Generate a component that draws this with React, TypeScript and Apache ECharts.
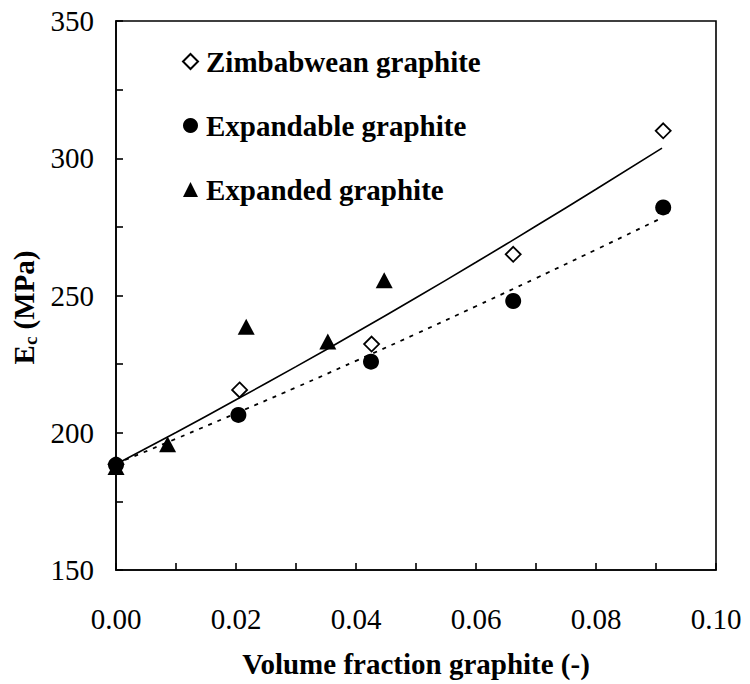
import React, { useEffect, useRef } from "react";
import * as echarts from "echarts";

// Measured data points
const zimX = [0, 0.0206, 0.0426, 0.0662, 0.0912];
const zimY = [188.5, 215.6, 232.3, 265.0, 310.0];

const expandableX = [0, 0.0204, 0.0425, 0.0662, 0.0912];
const expandableY = [188.3, 206.5, 225.9, 248.0, 282.1];

const expandedX = [0, 0.0086, 0.0217, 0.0353, 0.0447];
const expandedY = [187.5, 195.8, 238.6, 233.2, 255.6];

// Model curves
const curveX = [0, 0.01, 0.02, 0.03, 0.04, 0.05, 0.06, 0.07, 0.08, 0.091];
const solidY = [188.5, 200.1, 212.0, 224.1, 236.5, 249.2, 262.1, 275.3, 288.7, 303.7];
const dottedY = [188.7, 197.8, 207.1, 216.5, 226.2, 236.0, 246.1, 256.3, 266.7, 278.3];

const seriesNames = ["Zimbabwean graphite", "Expandable graphite", "Expanded graphite"];

const FONT = "Times New Roman, Liberation Serif, DejaVu Serif, serif";

function pairs(xs: number[], ys: number[]) {
  return xs.map((x, i) => [x, ys[i]]);
}

export default function App() {
  const ref = useRef<HTMLDivElement>(null);
  useEffect(() => {
    document.body.style.margin = "0";
    const chart = echarts.init(ref.current!, null, { renderer: "svg" });
    const axisLineStyle = { color: "#000", width: 1.6 };
    chart.setOption({
      animation: false,
      backgroundColor: "#fff",
      textStyle: { fontFamily: FONT },
      grid: {
        left: 116,
        right: 34,
        top: 21,
        bottom: 114,
        show: true,
        borderColor: "#000",
        borderWidth: 1.6,
      },
      legend: {
        data: seriesNames,
        orient: "vertical",
        left: 177,
        top: 42,
        itemWidth: 15,
        itemHeight: 15,
        itemGap: 35,
        textStyle: {
          fontFamily: FONT,
          fontWeight: "bold",
          fontSize: 29,
          color: "#000",
          padding: [0, 0, 0, 3],
        },
      },
      xAxis: {
        type: "value",
        min: 0,
        max: 0.1,
        interval: 0.01,
        name: "Volume fraction graphite (-)",
        nameLocation: "middle",
        nameGap: 79,
        nameTextStyle: {
          fontFamily: FONT,
          fontWeight: "bold",
          fontSize: 29,
          color: "#000",
        },
        axisLine: { lineStyle: axisLineStyle },
        axisTick: { inside: true, length: 7, lineStyle: axisLineStyle },
        splitLine: { show: false },
        axisLabel: {
          margin: 34,
          fontFamily: FONT,
          fontSize: 29,
          color: "#000",
          showMinLabel: true,
          showMaxLabel: true,
          formatter: (v: number) => {
            const k = Math.round(v * 100);
            return k % 2 === 0 ? v.toFixed(2) : "";
          },
        },
      },
      yAxis: {
        type: "value",
        min: 150,
        max: 350,
        interval: 25,
        name: "{b|E}{s|c}{b| (MPa)}",
        nameLocation: "middle",
        nameRotate: 90,
        nameGap: 72,
        nameTextStyle: {
          padding: [0, 24, 0, 0],
          rich: {
            b: { fontFamily: FONT, fontWeight: "bold", fontSize: 29, color: "#000" },
            s: {
              fontFamily: FONT,
              fontWeight: "bold",
              fontSize: 19,
              color: "#000",
              padding: [12, 0, 0, 0],
            },
          },
        },
        axisLine: { lineStyle: axisLineStyle },
        axisTick: { inside: true, length: 7, lineStyle: axisLineStyle },
        splitLine: { show: false },
        axisLabel: {
          margin: 22,
          fontFamily: FONT,
          fontSize: 29,
          color: "#000",
          formatter: (v: number) => (v % 50 === 0 ? String(v) : ""),
        },
      },
      series: [
        {
          type: "line",
          data: pairs(curveX, solidY),
          showSymbol: false,
          symbol: "none",
          smooth: true,
          lineStyle: { color: "#000", width: 1.6 },
          z: 1,
          silent: true,
        },
        {
          type: "line",
          data: pairs(curveX, dottedY),
          showSymbol: false,
          symbol: "none",
          smooth: true,
          lineStyle: { color: "#000", width: 1.8, type: [4, 6] },
          z: 1,
          silent: true,
        },
        {
          name: seriesNames[0],
          type: "scatter",
          data: pairs(zimX, zimY),
          symbol: "diamond",
          symbolSize: 15,
          itemStyle: { color: "#fff", borderColor: "#000", borderWidth: 1.8, opacity: 1 },
          z: 3,
        },
        {
          name: seriesNames[1],
          type: "scatter",
          data: pairs(expandableX, expandableY),
          symbol: "circle",
          symbolSize: 16,
          itemStyle: { color: "#000", opacity: 1 },
          z: 4,
        },
        {
          name: seriesNames[2],
          type: "scatter",
          data: pairs(expandedX, expandedY),
          symbol: "triangle",
          symbolSize: [17, 16],
          itemStyle: { color: "#000", opacity: 1 },
          z: 5,
        },
      ],
    });
    return () => chart.dispose();
  }, []);
  return (
    <div
      ref={ref}
      style={{ position: "fixed", left: 0, top: 0, width: 750, height: 684 }}
    />
  );
}
